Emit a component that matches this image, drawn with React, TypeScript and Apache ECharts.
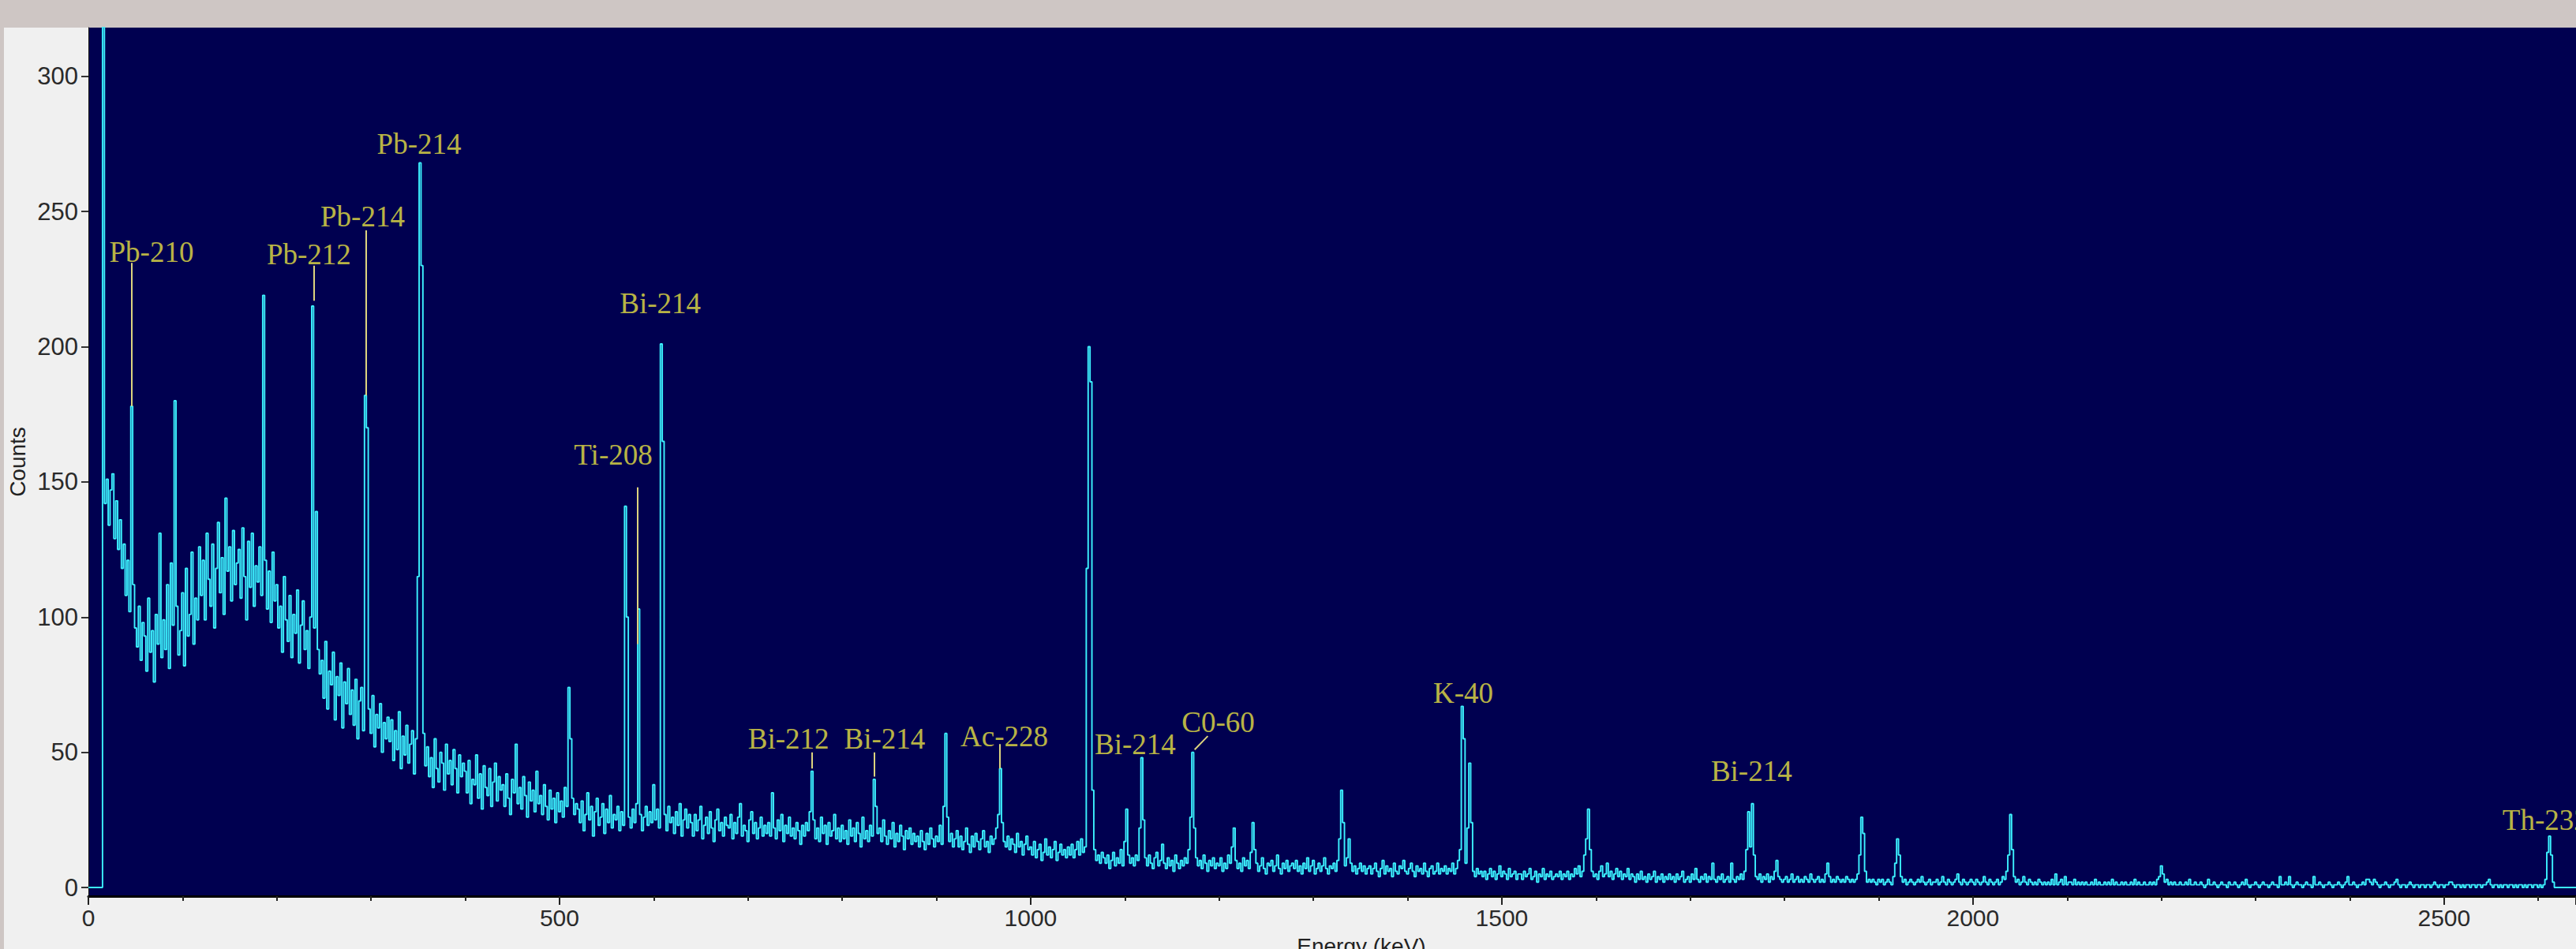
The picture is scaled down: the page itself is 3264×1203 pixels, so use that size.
import React, { useEffect, useRef } from 'react';
import * as echarts from 'echarts';

// Gamma spectrum: counts per 2 keV channel, channel energy = index * CHANNEL_KEV
const CHANNEL_KEV = 2;

const counts0to398 = [
  0, 0, 0, 0, 0, 0, 0, 0, 420, 142, 151, 134, 147, 153, 129, 143, 125, 136, 118, 127,
  108, 121, 102, 178, 112, 96, 89, 104, 84, 98, 93, 80, 107, 87, 95, 76, 101, 90, 131, 85,
  99, 88, 112, 81, 120, 97, 180, 104, 86, 95, 109, 82, 118, 93, 101, 124, 90, 107, 99, 126,
  108, 121, 99, 131, 114, 104, 127, 96, 118, 135, 109, 122, 101, 144, 117, 126, 106, 132, 112, 120,
  125, 107, 133, 115, 99, 128, 111, 131, 104, 119, 113, 126, 108, 219, 121, 103, 117, 98, 124, 106,
  112, 96, 104, 87, 115, 99, 91, 108, 85, 101, 94, 110, 83, 97, 106, 88, 95, 81, 100, 215,
  96, 139, 88, 79, 84, 70, 91, 66, 80, 75, 87, 62, 78, 71, 83, 59, 76, 68, 81, 64,
  73, 60, 77, 55, 69, 74, 58, 182, 170, 66, 57, 71, 52, 64, 59, 68, 50, 61, 55, 63,
  54, 62, 47, 58, 51, 65, 44, 56, 49, 60, 46, 53, 58, 42, 55, 115, 268, 230, 57, 45,
  52, 41, 48, 37, 55, 44, 39, 50, 46, 36, 53, 42, 47, 38, 51, 44, 35, 49, 41, 46,
];
const counts400to798 = [
  43, 35, 47, 31, 40, 38, 49, 33, 42, 29, 45, 37, 34, 44, 30, 39, 46, 32, 41, 36,
  38, 30, 42, 33, 27, 40, 35, 53, 31, 37, 29, 41, 34, 26, 39, 32, 36, 28, 43, 31,
  34, 27, 38, 30, 25, 36, 29, 33, 24, 35, 28, 32, 26, 37, 30, 74, 55, 33, 27, 31,
  29, 24, 32, 21, 27, 35, 25, 30, 19, 28, 33, 23, 26, 31, 20, 29, 24, 34, 22, 27,
  25, 30, 21, 28, 23, 141, 100, 26, 22, 29, 24, 31, 103, 27, 21, 26, 30, 23, 28, 24,
  38, 25, 29, 22, 201, 165, 27, 21, 30, 24, 26, 20, 28, 23, 31, 19, 25, 29, 22, 27,
  24, 19, 27, 21, 25, 30, 18, 23, 26, 20, 28, 22, 17, 25, 29, 21, 24, 19, 26, 23,
  22, 27, 18, 24, 20, 26, 31, 19, 23, 21, 17, 25, 28, 20, 24, 18, 22, 26, 19, 23,
  20, 24, 19, 35, 22, 18, 25, 21, 27, 17, 23, 20, 26, 19, 22, 18, 24, 21, 16, 23,
  19, 24, 21, 28, 43, 25, 18, 22, 17, 26, 20, 23, 16, 24, 19, 21, 27, 18, 22, 17,
];
const counts800to1198 = [
  23, 18, 21, 16, 25, 19, 22, 17, 24, 20, 15, 26, 18, 21, 17, 23, 19, 40, 30, 20,
  22, 17, 25, 19, 16, 21, 18, 24, 15, 20, 17, 23, 19, 14, 21, 18, 22, 16, 20, 17,
  19, 15, 21, 17, 14, 20, 16, 22, 18, 15, 19, 17, 23, 16, 30, 57, 26, 17, 20, 15,
  18, 21, 15, 19, 14, 17, 22, 16, 13, 19, 15, 20, 17, 14, 18, 21, 15, 17, 13, 19,
  16, 18, 22, 27, 44, 24, 17, 15, 19, 14, 18, 16, 13, 20, 15, 17, 12, 16, 19, 14,
  15, 12, 17, 11, 14, 16, 10, 13, 18, 12, 15, 11, 14, 17, 10, 13, 16, 12, 14, 11,
  15, 12, 16, 11, 14, 17, 12, 18, 13, 15, 118, 200, 187, 36, 14, 10, 12, 9, 13, 11,
  9, 12, 7, 10, 13, 8, 11, 9, 14, 8, 17, 29, 12, 9, 11, 8, 12, 10, 22, 48,
  25, 11, 8, 12, 9, 7, 11, 13, 8, 10, 16, 9, 7, 11, 8, 10, 6, 12, 9, 7,
  10, 8, 11, 9, 14, 26, 50, 22, 11, 8, 10, 7, 12, 9, 6, 10, 8, 11, 7, 9,
];
const counts1200to1598 = [
  8, 11, 6, 9, 7, 12, 9, 15, 22, 10, 7, 9, 6, 11, 8, 10, 7, 13, 24, 14,
  9, 6, 8, 11, 7, 5, 9, 8, 10, 6, 8, 12, 7, 5, 9, 7, 10, 6, 8, 9,
  7, 10, 6, 8, 5, 9, 7, 11, 6, 8, 10, 5, 7, 9, 6, 8, 11, 7, 5, 8,
  7, 9, 6, 10, 18, 36, 24, 8, 11, 18, 9, 6, 8, 5, 7, 9, 6, 8, 5, 7,
  8, 5, 7, 9, 6, 4, 7, 10, 5, 8, 6, 7, 4, 9, 6, 5, 8, 7, 10, 6,
  5, 7, 9, 6, 4, 8, 6, 7, 5, 9, 6, 4, 7, 8, 5, 6, 9, 5, 7, 6,
  8, 5, 7, 6, 9, 5, 7, 10, 14, 67, 55, 9, 22, 46, 24, 6, 4, 7, 5, 6,
  4, 6, 3, 5, 7, 4, 6, 3, 5, 8, 4, 6, 5, 3, 7, 4, 5, 6, 3, 5,
  5, 3, 6, 4, 5, 7, 3, 4, 6, 2, 5, 4, 7, 3, 5, 4, 6, 3, 4, 5,
  4, 6, 3, 5, 4, 6, 3, 5, 4, 7, 5, 8, 4, 6, 12, 18, 29, 14, 6, 4,
];
const counts1600to1998 = [
  5, 3, 6, 8, 4, 5, 9, 4, 6, 3, 5, 7, 4, 6, 3, 5, 4, 7, 3, 5,
  4, 2, 5, 3, 6, 3, 4, 2, 5, 3, 4, 6, 2, 4, 3, 5, 2, 4, 3, 5,
  3, 4, 2, 5, 3, 4, 6, 2, 3, 4, 2, 5, 3, 7, 3, 2, 4, 3, 5, 2,
  4, 3, 9, 3, 2, 4, 3, 5, 2, 3, 4, 2, 9, 3, 2, 4, 3, 5, 3, 6,
  14, 28, 15, 31, 12, 4, 3, 5, 2, 4, 3, 5, 2, 4, 3, 6, 10, 4, 3, 2,
  3, 4, 2, 3, 5, 2, 3, 4, 2, 3, 2, 4, 3, 2, 5, 3, 2, 3, 4, 2,
  3, 2, 5, 9, 4, 2, 3, 2, 4, 3, 2, 3, 2, 4, 3, 2, 3, 2, 3, 5,
  12, 26, 20, 6, 2, 3, 2, 3, 2, 1, 3, 2, 3, 1, 2, 3, 2, 1, 4, 9,
  18, 12, 4, 2, 3, 1, 2, 3, 2, 1, 2, 3, 2, 4, 2, 1, 2, 3, 1, 2,
  2, 3, 1, 2, 4, 2, 1, 3, 2, 1, 2, 3, 5, 2, 1, 3, 2, 1, 2, 3,
];
const counts2000to2398 = [
  2, 1, 3, 2, 1, 2, 4, 2, 1, 3, 2, 1, 2, 3, 1, 2, 4, 3, 6, 12,
  27, 14, 4, 2, 3, 1, 2, 4, 2, 1, 3, 2, 1, 2, 1, 3, 2, 1, 2, 1,
  2, 1, 3, 1, 5, 1, 2, 3, 1, 4, 1, 2, 2, 1, 3, 1, 2, 1, 2, 1,
  2, 1, 1, 2, 1, 3, 1, 2, 1, 1, 2, 1, 2, 1, 3, 1, 2, 1, 1, 2,
  1, 2, 1, 1, 2, 1, 3, 1, 2, 1, 1, 2, 1, 1, 2, 1, 2, 1, 3, 4,
  8, 5, 2, 3, 1, 2, 1, 2, 1, 1, 2, 1, 1, 2, 1, 3, 1, 1, 2, 1,
  1, 2, 1, 0, 1, 3, 1, 1, 2, 1, 0, 1, 2, 1, 1, 0, 2, 1, 1, 2,
  1, 0, 1, 2, 1, 3, 1, 0, 1, 1, 2, 1, 0, 1, 2, 1, 1, 0, 1, 2,
  1, 1, 0, 4, 1, 1, 2, 1, 4, 1, 0, 1, 2, 1, 1, 0, 1, 2, 1, 1,
  0, 4, 1, 1, 2, 1, 0, 1, 1, 2, 1, 0, 1, 1, 2, 1, 0, 1, 2, 4,
];
const counts2400to2640 = [
  1, 1, 2, 1, 0, 1, 1, 2, 1, 3, 3, 2, 1, 3, 2, 1, 0, 1, 1, 2,
  1, 0, 1, 1, 2, 3, 1, 0, 1, 1, 0, 1, 2, 1, 0, 1, 1, 0, 1, 1,
  0, 1, 1, 0, 1, 2, 1, 0, 1, 1, 0, 1, 1, 2, 2, 1, 0, 1, 1, 0,
  1, 0, 1, 1, 0, 1, 1, 0, 1, 1, 0, 1, 1, 2, 3, 1, 0, 1, 1, 0,
  1, 0, 1, 1, 0, 1, 1, 0, 1, 0, 1, 1, 0, 1, 0, 1, 1, 0, 1, 1,
  0, 1, 0, 1, 3, 13, 19, 12, 2, 0, 0, 0, 0, 0, 0, 0, 0, 0, 0, 0,
  0,
];

const yTickValues = [0, 50, 100, 150, 200, 250, 300];
const xMajorInterval = 500;
const xMinorInterval = 100;
const energyMax = 2640;
const countMin = -3.2;
const countMax = 318;

// Nuclide annotations: label anchor in [keV, counts]
const peakLabels = [
  { name: 'Pb-210', at: [67, 235] },
  { name: 'Pb-212', at: [234, 234] },
  { name: 'Pb-214', at: [291, 248] },
  { name: 'Pb-214', at: [351, 275] },
  { name: 'Ti-208', at: [557, 160] },
  { name: 'Bi-214', at: [607, 216] },
  { name: 'Bi-212', at: [743, 55] },
  { name: 'Bi-214', at: [845, 55] },
  { name: 'Ac-228', at: [972, 56] },
  { name: 'Bi-214', at: [1111, 53] },
  { name: 'C0-60', at: [1199, 61] },
  { name: 'K-40', at: [1459, 72] },
  { name: 'Bi-214', at: [1765, 43] },
  { name: 'Th-232', at: [2562, 25], left: true },
];

// Leader lines from labels to peaks: [[keV, counts], [keV, counts]]
const leaderLines = [
  [[46, 231], [46, 178]],
  [[239, 230], [239, 217]],
  [[295, 243], [295, 182]],
  [[583, 148], [583, 90]],
  [[768, 50], [768, 44]],
  [[834, 50], [834, 41]],
  [[967, 53], [967, 44]],
  [[1174, 51], [1188, 56]],
];

const counts = [
  ...counts0to398,
  ...counts400to798,
  ...counts800to1198,
  ...counts1200to1598,
  ...counts1600to1998,
  ...counts2000to2398,
  ...counts2400to2640,
];

const NARROW = "'Liberation Sans Narrow', 'Arial Narrow', 'Liberation Sans', Arial, sans-serif";
const SANS = "'Liberation Sans', Arial, sans-serif";
const SERIF = "'Liberation Serif', 'Times New Roman', serif";

export default function App() {
  const ref = useRef<HTMLDivElement>(null);

  useEffect(() => {
    if (!ref.current) return;
    const chart = echarts.init(ref.current, undefined, { renderer: 'svg' });
    const spectrum = counts.map((c, i) => [i * CHANNEL_KEV, c]);

    const option: any = {
      animation: false,
      backgroundColor: '#f0f0f0',
      graphic: [
        { type: 'rect', silent: true, shape: { x: 0, y: 0, width: 3264, height: 35 }, style: { fill: '#cec6c4' } },
        { type: 'rect', silent: true, shape: { x: 0, y: 0, width: 5, height: 1203 }, style: { fill: '#cec6c4' } },
      ],
      grid: {
        left: 112,
        top: 35,
        right: 0,
        bottom: 67,
        show: true,
        backgroundColor: '#000050',
        borderWidth: 0,
        containLabel: false,
        outerBoundsMode: 'none',
      },
      xAxis: [
        {
          type: 'value',
          min: 0,
          max: energyMax,
          interval: xMajorInterval,
          position: 'bottom',
          name: 'Energy (keV)',
          nameLocation: 'middle',
          nameGap: 49,
          nameTextStyle: { fontFamily: SANS, fontSize: 28, color: '#222', padding: [0, 0, 0, 74] },
          axisLine: { show: true, onZero: false, lineStyle: { color: '#000', width: 3 } },
          axisTick: { show: true, length: 11, lineStyle: { color: '#222', width: 2 } },
          axisLabel: {
            show: true,
            margin: 12,
            fontFamily: NARROW,
            fontSize: 30,
            color: '#2a2a2a',
            formatter: (v: number) => (v % xMajorInterval === 0 ? String(v) : ''),
          },
          splitLine: { show: false },
        },
        {
          type: 'value',
          min: 0,
          max: energyMax,
          interval: xMinorInterval,
          position: 'bottom',
          axisLine: { show: false, onZero: false },
          axisTick: { show: true, length: 6, lineStyle: { color: '#222', width: 2 } },
          axisLabel: { show: false },
          splitLine: { show: false },
        },
      ],
      yAxis: {
        type: 'value',
        min: countMin,
        max: countMax,
        name: 'Counts',
        nameLocation: 'middle',
        nameRotate: 90,
        nameGap: 75,
        nameTextStyle: { fontFamily: SANS, fontSize: 28, color: '#222' },
        axisLine: { show: true, lineStyle: { color: '#111', width: 1 } },
        axisTick: { show: true, length: 9, customValues: yTickValues, lineStyle: { color: '#333', width: 2 } },
        axisLabel: { show: true, customValues: yTickValues, margin: 13, fontFamily: NARROW, fontSize: 31, color: '#2a2a2a' },
        splitLine: { show: false },
      },
      series: [
        {
          type: 'line',
          xAxisIndex: 0,
          yAxisIndex: 0,
          data: spectrum,
          step: 'middle',
          symbol: 'none',
          showSymbol: false,
          clip: true,
          silent: true,
          lineStyle: { color: '#3cf2ff', width: 1.9 },
          itemStyle: { color: '#3cf2ff' },
          z: 2,
        },
        {
          type: 'lines',
          coordinateSystem: 'cartesian2d',
          xAxisIndex: 0,
          yAxisIndex: 0,
          silent: true,
          data: leaderLines.map((l) => ({ coords: l })),
          lineStyle: { color: '#ddd47e', width: 2, opacity: 1 },
          z: 3,
        },
        {
          type: 'scatter',
          xAxisIndex: 0,
          yAxisIndex: 0,
          silent: true,
          symbolSize: 1,
          itemStyle: { color: 'rgba(0,0,0,0)' },
          data: peakLabels.map((p) => ({
            name: p.name,
            value: p.at,
            label: p.left ? { align: 'left' } : undefined,
          })),
          label: {
            show: true,
            position: 'inside',
            formatter: '{b}',
            color: '#ece642',
            fontFamily: SERIF,
            fontSize: 37,
          },
          z: 4,
        },
      ],
    };

    chart.setOption(option);
    return () => chart.dispose();
  }, []);

  return <div ref={ref} style={{ position: 'absolute', left: 0, top: 0, width: 3264, height: 1203 }} />;
}
